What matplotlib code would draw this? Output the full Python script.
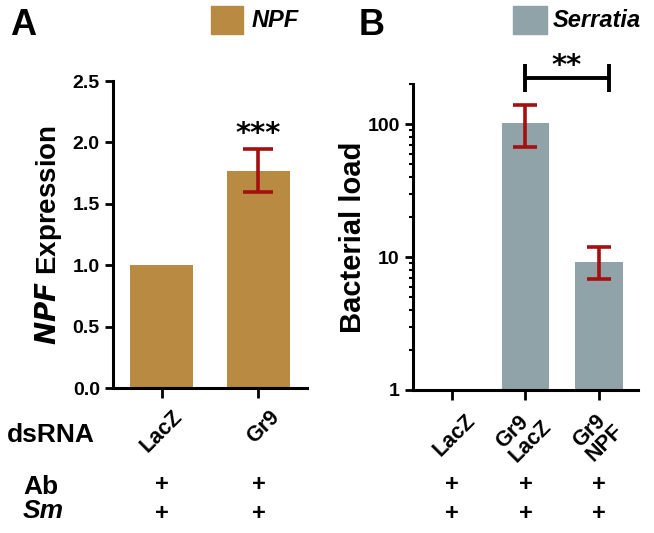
import matplotlib
matplotlib.use("Agg")
import matplotlib.pyplot as plt
from matplotlib.patches import Rectangle
from matplotlib.transforms import blended_transform_factory, ScaledTranslation

plt.rcParams["font.family"] = ["Liberation Sans", "DejaVu Sans"]
plt.rcParams["font.weight"] = "bold"
plt.rcParams["axes.labelweight"] = "bold"

# panel A: NPF expression
A_LABELS = ["LacZ", "Gr9"]
A_MEAN = [1.0, 1.765]
A_LO = [None, 1.595]
A_HI = [None, 1.95]

# panel B: Serratia load (log scale)
B_LABELS = ["LacZ", "Gr9\nLacZ", "Gr9\nNPF"]
B_MEAN = [0.0, 102.0, 9.2]
B_LO = [None, 67.5, 6.8]
B_HI = [None, 140.0, 12.0]

NPF_COLOR = "#B98B42"
SER_COLOR = "#8FA3A8"
ERR_COLOR = "#A50F0F"

fig = plt.figure(figsize=(6.54, 5.33), dpi=100)
axA = fig.add_axes([0.1728, 0.272, 0.2966, 0.576])
axB = fig.add_axes([0.6315, 0.2683, 0.344, 0.574])


def style(ax):
    for s in ("top", "right"):
        ax.spines[s].set_visible(False)
    for s in ("left", "bottom"):
        ax.spines[s].set_linewidth(2.2)
    ax.tick_params(width=2, length=6, labelsize=14)
    ax.tick_params(axis="x", length=7)


def set_xlabels(ax, labels, offsets, **kw):
    ax.set_xticklabels(labels, rotation=45, ha="right", va="top",
                       rotation_mode="anchor", fontsize=15.5, fontweight="bold", **kw)
    # nudge rotated tick labels (offsets in pixels, +x right, +y down)
    for lab, (dx, dy) in zip(ax.get_xticklabels(), offsets):
        lab.set_transform(lab.get_transform()
                          + ScaledTranslation(dx / 100, -dy / 100, fig.dpi_scale_trans))
    for t in ax.get_yticklabels():
        t.set_fontweight("bold")


# --- A ---
xa = list(range(len(A_LABELS)))
axA.bar(xa, A_MEAN, 0.65, color=NPF_COLOR)
for x, m, lo, hi in zip(xa, A_MEAN, A_LO, A_HI):
    if lo is not None:
        axA.errorbar(x, m, yerr=[[m - lo], [hi - m]], color=ERR_COLOR,
                     elinewidth=2.6, capsize=11, capthick=2.6)
axA.text(1, 2.07, "***", ha="center", va="center", fontsize=21,
         family="DejaVu Sans", fontweight="bold")
axA.set_xlim(-0.5, 1.5)
axA.set_ylim(0, 2.5)
axA.set_yticks([0, 0.5, 1.0, 1.5, 2.0, 2.5])
axA.set_yticklabels(["0.0", "0.5", "1.0", "1.5", "2.0", "2.5"])
axA.set_xticks(xa)
style(axA)
set_xlabels(axA, A_LABELS, [(10, 4), (10, 4)])
axA.set_ylabel(r"$\bfit{NPF}$ Expression", fontsize=20, labelpad=6)

# --- B ---
xb = list(range(len(B_LABELS)))
axB.set_yscale("log")
axB.bar(xb[1:], B_MEAN[1:], 0.65, color=SER_COLOR)
for x, m, lo, hi in zip(xb, B_MEAN, B_LO, B_HI):
    if lo is not None:
        axB.errorbar(x, m, yerr=[[m - lo], [hi - m]], color=ERR_COLOR,
                     elinewidth=2.6, capsize=8.5, capthick=2.6)
axB.set_xlim(-0.53, 2.53)
axB.set_ylim(1, 200)
axB.set_yticks([1, 10, 100])
axB.set_yticklabels(["1", "10", "100"])
axB.set_xticks(xb)
style(axB)
set_xlabels(axB, B_LABELS, [(13, 6), (2, -2), (0, 2)],
            linespacing=0.9, multialignment="left")
axB.tick_params(axis="y", which="minor", width=1.5, length=3)
axB.set_ylabel("Bacterial load", fontsize=21, labelpad=0)

# significance bracket
tB = blended_transform_factory(axB.transData, axB.transAxes)
axB.plot([1, 2.13], [1.02, 1.02], color="black", lw=2.8, transform=tB,
         clip_on=False, solid_capstyle="butt")
for x in (1, 2.13):
    axB.plot([x, x], [0.975, 1.065], color="black", lw=2.8, transform=tB,
             clip_on=False, solid_capstyle="butt")
axB.text(1.56, 1.058, "**", ha="center", va="center", fontsize=21,
         family="DejaVu Sans", fontweight="bold", transform=tB)

# panel letters and legend keys
fig.text(0.015, 0.953, "A", fontsize=26, ha="left", va="center")
fig.text(0.548, 0.953, "B", fontsize=26, ha="left", va="center")
fig.patches.append(Rectangle((0.3226, 0.936), 0.049, 0.0525, color=NPF_COLOR,
                             transform=fig.transFigure, figure=fig))
fig.text(0.385, 0.962, "NPF", fontsize=17, style="italic", va="center")
fig.patches.append(Rectangle((0.785, 0.936), 0.052, 0.0525, color=SER_COLOR,
                             transform=fig.transFigure, figure=fig))
fig.text(0.845, 0.962, "Serratia", fontsize=17, style="italic", va="center")

# treatment rows
fig.text(0.011, 0.184, "dsRNA", fontsize=19, va="center")
fig.text(0.035, 0.087, "Ab", fontsize=19, va="center")
fig.text(0.035, 0.041, "Sm", fontsize=19, va="center", style="italic")
for ax, xs in ((axA, xa), (axB, xb)):
    tr = blended_transform_factory(ax.transData, fig.transFigure)
    for x in xs:
        ax.text(x, 0.091, "+", transform=tr, ha="center", va="center", fontsize=17)
        ax.text(x, 0.036, "+", transform=tr, ha="center", va="center", fontsize=17)

fig.savefig("out.png", dpi=100)
